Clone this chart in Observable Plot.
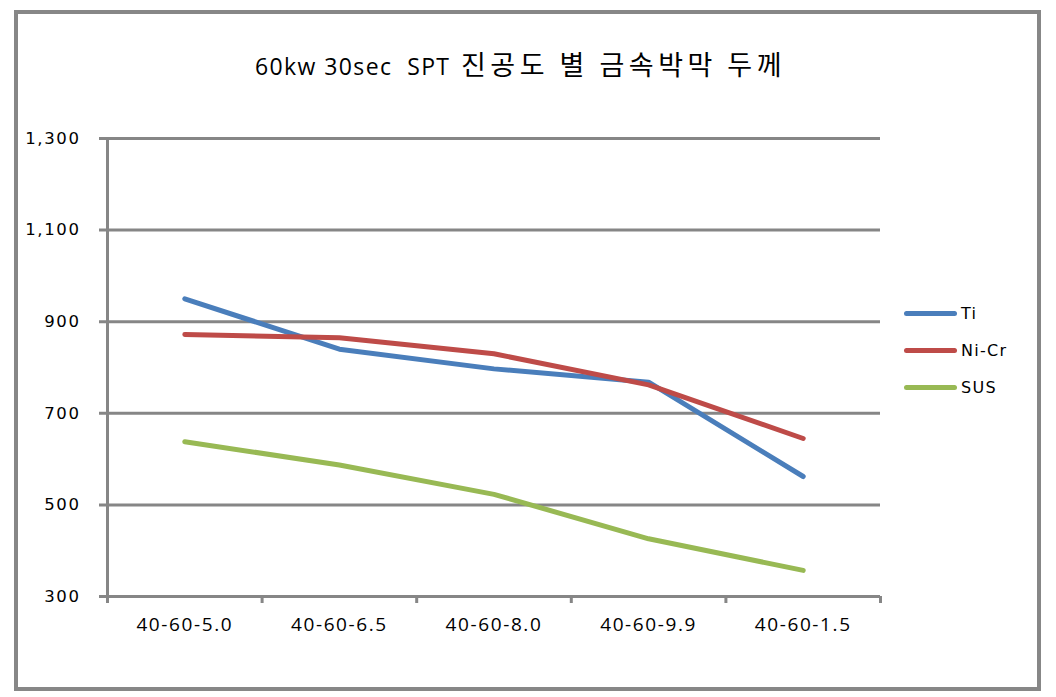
<!DOCTYPE html>
<html><head><meta charset="utf-8">
<script src="https://cdn.jsdelivr.net/npm/d3@7"></script>
<script src="https://cdn.jsdelivr.net/npm/@observablehq/plot@0.6"></script>
<style>
body{margin:0;background:#fff;}
#wrap{position:relative;width:1056px;height:697px;overflow:hidden;background:#fff;}
#frame{position:absolute;left:14px;top:10px;width:1027px;height:681px;border:4px solid #878787;box-sizing:border-box;}
#title{position:absolute;left:255px;top:46px;white-space:pre;color:#000;line-height:36px;}
#title .lat{font-family:"Open Sans","Noto Sans",sans-serif;font-size:23px;letter-spacing:1.4px;}
#title .kor{font-family:"Noto Sans CJK KR",sans-serif;font-size:27px;letter-spacing:4.5px;}
#chart{position:absolute;left:0;top:0;}
#legend{position:absolute;left:904px;top:295px;font-family:"DejaVu Sans",sans-serif;font-size:16px;letter-spacing:1.3px;color:#000;}
.item{display:flex;align-items:center;height:37px;}
.swatch{width:53px;height:5px;border-radius:3px;margin-right:4px;}
</style>
</head><body>
<div id="wrap">
  <div id="frame"></div>
  <div id="title"><span class="lat"></span><span class="kor"></span></div>
  <div id="chart"></div>
  <div id="legend"></div>
</div>
<script>
const titleLatin = "60kw 30sec  SPT";
const titleKorean = " 진공도 별 금속박막 두께";
const categories = ["40-60-5.0", "40-60-6.5", "40-60-8.0", "40-60-9.9", "40-60-1.5"];
const seriesNames = ["Ti", "Ni-Cr", "SUS"];
const tiValues = [950, 840, 797, 768, 562];
const niCrValues = [872, 865, 830, 762, 645];
const susValues = [638, 587, 523, 426, 357];
const yTicks = [300, 500, 700, 900, 1100, 1300];
const seriesColors = ["#4a7ebb", "#be4b48", "#98b954"];

const valuesBySeries = [tiValues, niCrValues, susValues];
const rows = [];
seriesNames.forEach((s, k) => {
  valuesBySeries[k].forEach((v, i) => rows.push({series: s, cat: categories[i], idx: i, value: v}));
});
const boundaries = d3.range(categories.length + 1);
const centers = categories.map((_, i) => i + 0.5);
const grid = "#868686";

document.querySelector("#title .lat").textContent = titleLatin;
document.querySelector("#title .kor").textContent = titleKorean;

const chart = Plot.plot({
  width: 1056,
  height: 697,
  marginLeft: 107,
  marginRight: 176,
  marginTop: 138,
  marginBottom: 101,
  x: {type: "linear", domain: [0, categories.length], axis: null},
  y: {domain: [300, 1300], axis: null},
  color: {domain: seriesNames, range: seriesColors},
  marks: [
    Plot.ruleY(yTicks, {stroke: grid, strokeWidth: 3, insetLeft: -8}),
    Plot.ruleX([0], {stroke: grid, strokeWidth: 3, insetBottom: -7}),
    Plot.axisX({ticks: boundaries, tickSize: 7, tickFormat: () => "", stroke: grid, strokeWidth: 3, label: null}),
    Plot.axisX({ticks: centers, tickSize: 0, tickPadding: 21, label: null,
      tickFormat: d => categories[Math.round(d - 0.5)], fill: "#000"}),
    Plot.axisY({ticks: yTicks, tickSize: 0, tickPadding: 27, label: null, tickFormat: d3.format(","), fill: "#000"}),
    Plot.line(rows, {x: d => d.idx + 0.5, y: "value", z: "series", stroke: "series",
      strokeWidth: 5, strokeLinecap: "round", strokeLinejoin: "round"})
  ]
});
chart.querySelectorAll("g[aria-label='x-axis tick label']").forEach(g => {
  g.setAttribute("font-family", "'Open Sans', sans-serif");
  g.setAttribute("font-size", "19");
  g.style.fontFamily = "'Open Sans', sans-serif";
  g.style.fontSize = "19px";
  g.style.letterSpacing = "1.6px";
});
chart.querySelectorAll("g[aria-label='y-axis tick label']").forEach(g => {
  g.setAttribute("font-family", "'DejaVu Sans', sans-serif");
  g.setAttribute("font-size", "16.5");
  g.style.fontFamily = "'DejaVu Sans', sans-serif";
  g.style.fontSize = "16.5px";
  g.style.letterSpacing = "1.6px";
});
document.getElementById("chart").appendChild(chart);

const legend = document.getElementById("legend");
seriesNames.forEach((s, k) => {
  const item = document.createElement("div");
  item.className = "item";
  const sw = document.createElement("div");
  sw.className = "swatch";
  sw.style.background = seriesColors[k];
  const label = document.createElement("span");
  label.textContent = s;
  item.appendChild(sw);
  item.appendChild(label);
  legend.appendChild(item);
});
</script>
</body></html>
